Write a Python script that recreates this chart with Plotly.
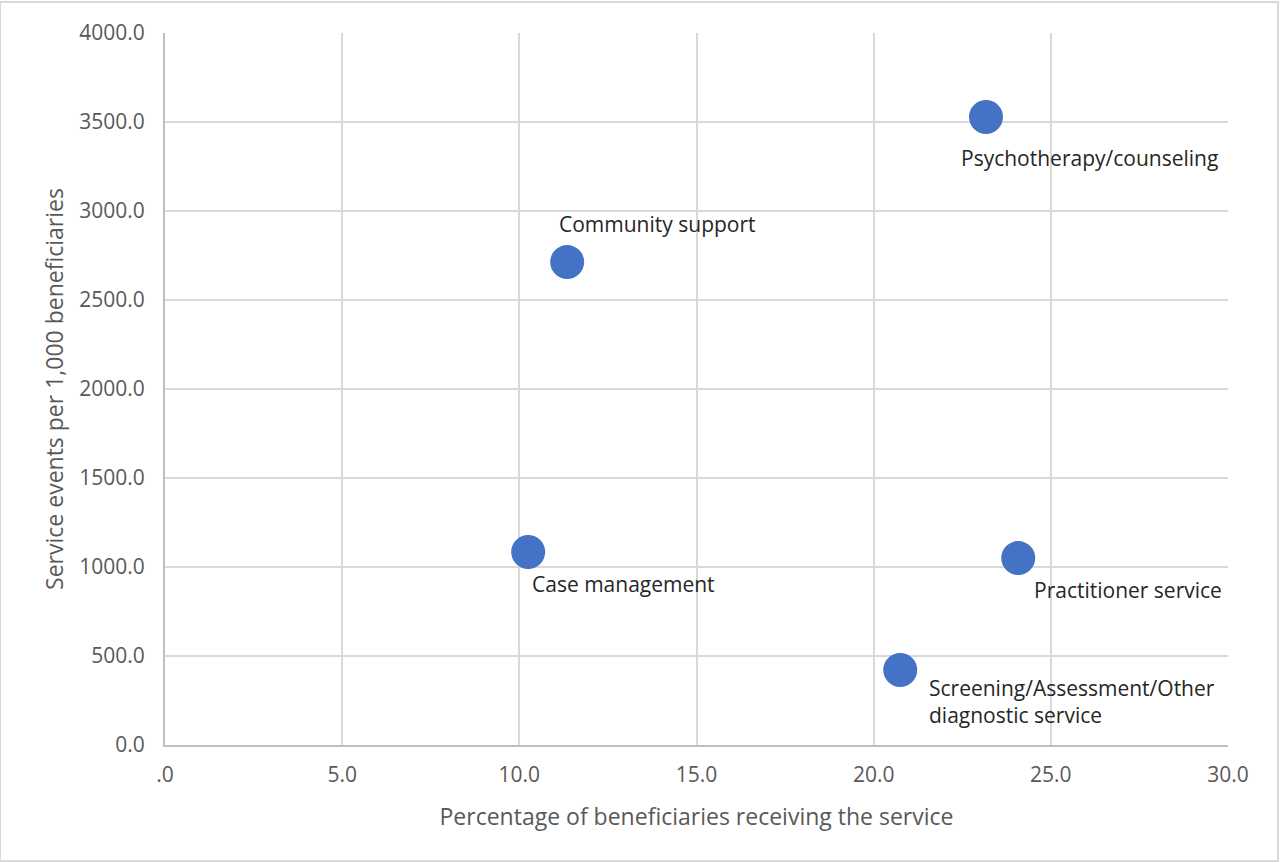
import plotly.graph_objects as go

# Service categories and their metrics
services = [
    "Psychotherapy/counseling",
    "Community support",
    "Case management",
    "Practitioner service",
    "Screening/Assessment/Other<br>diagnostic service",
]
pct_receiving = [23.17, 11.35, 10.25, 24.08, 20.75]
events_per_1000 = [3528, 2713, 1084, 1050, 421]

x_ticks = [0, 5, 10, 15, 20, 25, 30]
x_tick_labels = [".0", "5.0", "10.0", "15.0", "20.0", "25.0", "30.0"]
y_ticks = [0, 500, 1000, 1500, 2000, 2500, 3000, 3500, 4000]
y_tick_labels = ["0.0", "500.0", "1000.0", "1500.0", "2000.0", "2500.0", "3000.0", "3500.0", "4000.0"]

# label offsets (pixels) relative to each marker
label_shift = [(-27, -41), (-10, 38), (2, -32), (14, -32), (27, -31)]

FONT = "Open Sans, Noto Sans, sans-serif"

fig = go.Figure()
fig.add_trace(go.Scatter(
    x=pct_receiving, y=events_per_1000, mode="markers",
    marker=dict(size=34, color="#4472C4"),
    hoverinfo="text", text=services, showlegend=False,
))

for name, xv, yv, (dx, dy) in zip(services, pct_receiving, events_per_1000, label_shift):
    fig.add_annotation(
        x=xv, y=yv, xref="x", yref="y", text=name, showarrow=False,
        xanchor="left", yanchor="middle", align="left",
        xshift=dx, yshift=dy,
        font=dict(family=FONT, size=21, color="#262626"),
    )

# thin outer chart border
fig.add_shape(type="rect", xref="paper", yref="paper",
              x0=-165/1063, x1=1+50/1063, y0=-116/712, y1=1+31/712,
              line=dict(color="#d9d9d9", width=2), layer="below")

axis_font = dict(family=FONT, size=21, color="#595959")
title_font = dict(family=FONT, size=23, color="#595959")
fig.update_layout(
    width=1280, height=863,
    margin=dict(l=165, r=52, t=33, b=118),
    paper_bgcolor="white", plot_bgcolor="white",
    xaxis=dict(
        range=[0, 30], tickvals=x_ticks, ticktext=x_tick_labels,
        showgrid=True, gridcolor="#d9d9d9", gridwidth=2,
        showline=True, linecolor="#bfbfbf", linewidth=2, mirror=False,
        zeroline=False, ticks="", tickfont=axis_font, ticklabelstandoff=10,
        title=dict(text="Percentage of beneficiaries receiving the service",
                   font=title_font, standoff=22),
    ),
    yaxis=dict(
        range=[0, 4000], tickvals=y_ticks, ticktext=y_tick_labels,
        showgrid=True, gridcolor="#d9d9d9", gridwidth=2,
        showline=True, linecolor="#bfbfbf", linewidth=2,
        zeroline=False, ticks="", tickfont=axis_font, ticklabelstandoff=14,
        title=dict(text="Service events per 1,000 beneficiaries",
                   font=title_font, standoff=9),
    ),
)

fig.write_html("out.html")
